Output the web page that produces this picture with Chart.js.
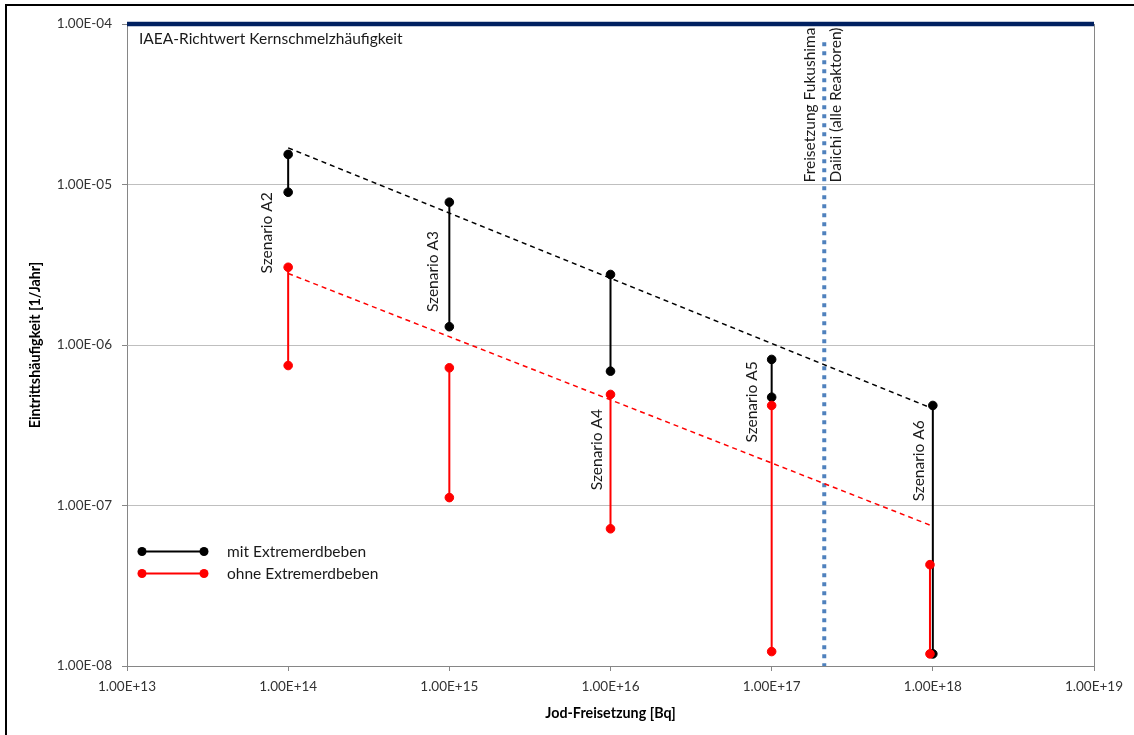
<!DOCTYPE html>
<html>
<head>
<meta charset="utf-8">
<script src="https://cdn.jsdelivr.net/npm/chart.js@4/dist/chart.umd.min.js"></script>
<style>
  html, body { margin: 0; padding: 0; background: #fff; }
  #wrap { width: 1134px; height: 735px; position: relative; }
</style>
</head>
<body>
<div id="wrap"><canvas id="c" width="1134" height="735"></canvas></div>
<script>
// Scenarios and their iodine release (Bq)
const scenarios = ['Szenario A2', 'Szenario A3', 'Szenario A4', 'Szenario A5', 'Szenario A6'];
const releaseMit = [1e14, 1e15, 1e16, 1e17, 1e18];
const releaseOhne = [1e14, 1e15, 1e16, 1e17, 9.6e17];

// Frequency ranges (1/year): upper and lower bound per scenario
const mitHigh = [1.54e-5, 7.76e-6, 2.75e-6, 8.13e-7, 4.2e-7];
const mitLow = [8.95e-6, 1.30e-6, 6.87e-7, 4.73e-7, 1.19e-8];
const ohneHigh = [3.05e-6, 7.21e-7, 4.92e-7, 4.20e-7, 4.28e-8];
const ohneLow = [7.45e-7, 1.12e-7, 7.16e-8, 1.23e-8, 1.19e-8];

// Trend lines through the upper bounds
const trendX = [1e14, 1e18];
const trendMit = [1.69e-5, 4.01e-7];
const trendOhne = [2.79e-6, 7.43e-8];

// Reference values
const iaeaLimit = 1e-4;
const iaeaRange = [1e13, 1e19];
const fukushimaRelease = 2.12e17;
const fukushimaRange = [7.7e-5, 1e-8];

// Axis ticks
const xTicks = [1e13, 1e14, 1e15, 1e16, 1e17, 1e18, 1e19];
const yTicks = [1e-8, 1e-7, 1e-6, 1e-5, 1e-4];

const FONT = 'Lato, "Open Sans", "Liberation Sans", sans-serif';
const TEXT_SIZE = 15.5;

function sci(v) {
  const e = Math.round(Math.log10(v));
  const m = v / Math.pow(10, e);
  return m.toFixed(2) + 'E' + (e < 0 ? '-' : '+') + String(Math.abs(e)).padStart(2, '0');
}

// vertical range segments separated by gaps
function segments(xs, hi, lo) {
  const out = [];
  xs.forEach((x, i) => {
    out.push({ x: x, y: hi[i] });
    out.push({ x: x, y: lo[i] });
    out.push({ x: x, y: null });
  });
  return out;
}

// label placement: horizontal pixel offset from the scenario position, vertical centre as a frequency
const labelPlacement = [
  { dx: -21, y: 5.0e-6 },
  { dx: -16, y: 2.87e-6 },
  { dx: -14, y: 2.23e-7 },
  { dx: -20, y: 4.42e-7 },
  { dx: -14, y: 1.9e-7 }
];

const frame = {
  id: 'frame',
  beforeDraw(chart) {
    const ctx = chart.ctx;
    ctx.save();
    ctx.fillStyle = '#fff';
    ctx.fillRect(0, 0, chart.width, chart.height);
    ctx.strokeStyle = '#000';
    ctx.lineWidth = 2;
    ctx.beginPath();
    ctx.moveTo(6, chart.height);
    ctx.lineTo(6, 5);
    ctx.lineTo(chart.width, 5);
    ctx.stroke();
    ctx.restore();
  },
  afterDraw(chart) {
    const { ctx, chartArea: a } = chart;
    ctx.save();
    ctx.strokeStyle = '#868686';
    ctx.lineWidth = 1;
    ctx.beginPath();
    ctx.moveTo(Math.round(a.right) + 0.5, a.top);
    ctx.lineTo(Math.round(a.right) + 0.5, a.bottom);
    ctx.stroke();
    ctx.restore();
  }
};

const annotations = {
  id: 'annotations',
  afterDatasetsDraw(chart) {
    const { ctx, chartArea: a, scales: { x, y } } = chart;
    ctx.save();
    ctx.fillStyle = '#1a1a1a';
    ctx.font = TEXT_SIZE + 'px ' + FONT;
    ctx.textBaseline = 'middle';
    ctx.textAlign = 'left';
    ctx.fillText('IAEA-Richtwert Kernschmelzhäufigkeit', a.left + 12, a.top + 15);

    // scenario labels, rotated
    ctx.textAlign = 'center';
    scenarios.forEach((s, i) => {
      const px = x.getPixelForValue(releaseMit[i]) + labelPlacement[i].dx;
      const py = y.getPixelForValue(labelPlacement[i].y);
      ctx.save();
      ctx.translate(px, py);
      ctx.rotate(-Math.PI / 2);
      ctx.fillText(s, 0, 0);
      ctx.restore();
    });

    // Fukushima label
    const fx = x.getPixelForValue(fukushimaRelease);
    [['Freisetzung Fukushima', -14], ['Daiichi (alle Reaktoren)', 12]].forEach(([t, dx]) => {
      ctx.save();
      ctx.translate(fx + dx, a.top + 81);
      ctx.rotate(-Math.PI / 2);
      ctx.fillText(t, 0, 0);
      ctx.restore();
    });

    // legend
    const items = [
      { label: 'mit Extremerdbeben', color: '#000', y: a.bottom - 114.5 },
      { label: 'ohne Extremerdbeben', color: '#ff0000', y: a.bottom - 92.5 }
    ];
    items.forEach(it => {
      const x0 = a.left + 15, x1 = a.left + 77;
      ctx.strokeStyle = it.color;
      ctx.fillStyle = it.color;
      ctx.lineWidth = 2;
      ctx.beginPath();
      ctx.moveTo(x0, it.y);
      ctx.lineTo(x1, it.y);
      ctx.stroke();
      [x0, x1].forEach(px => {
        ctx.beginPath();
        ctx.arc(px, it.y, 4.5, 0, Math.PI * 2);
        ctx.fill();
      });
      ctx.fillStyle = '#1a1a1a';
      ctx.textAlign = 'left';
      ctx.fillText(it.label, a.left + 100, it.y);
    });
    ctx.restore();
  }
};

const rangeStyle = (color) => ({
  borderColor: color,
  backgroundColor: color,
  pointBackgroundColor: color,
  pointBorderColor: color,
  pointRadius: 4.3,
  pointBorderWidth: 1,
  borderWidth: 2,
  spanGaps: false,
  clip: false
});

new Chart(document.getElementById('c'), {
  type: 'line',
  data: {
    datasets: [
      Object.assign({ label: 'ohne Extremerdbeben', data: segments(releaseOhne, ohneHigh, ohneLow) }, rangeStyle('#ff0000')),
      Object.assign({ label: 'mit Extremerdbeben', data: segments(releaseMit, mitHigh, mitLow) }, rangeStyle('#000000')),
      {
        label: 'Trend ohne',
        data: trendX.map((v, i) => ({ x: v, y: trendOhne[i] })),
        borderColor: '#ff0000', borderWidth: 1.5, borderDash: [5, 4], pointRadius: 0
      },
      {
        label: 'Trend mit',
        data: trendX.map((v, i) => ({ x: v, y: trendMit[i] })),
        borderColor: '#000000', borderWidth: 1.5, borderDash: [5, 4], pointRadius: 0
      },
      {
        label: 'Fukushima',
        data: fukushimaRange.map(v => ({ x: fukushimaRelease, y: v })),
        borderColor: '#4f81bd', borderWidth: 4, borderDash: [4, 5], borderCapStyle: 'butt', pointRadius: 0
      },
      {
        label: 'IAEA',
        data: iaeaRange.map(v => ({ x: v, y: iaeaLimit })),
        borderColor: '#002060', borderWidth: 4.5, pointRadius: 0, clip: false
      }
    ]
  },
  options: {
    responsive: false,
    animation: false,
    devicePixelRatio: 1,
    layout: { padding: { top: 24, right: 40, bottom: 0, left: 0 } },
    plugins: { legend: { display: false }, tooltip: { enabled: false } },
    scales: {
      x: {
        type: 'logarithmic',
        position: 'bottom',
        min: 1e13,
        max: 1e19,
        afterBuildTicks: s => { s.ticks = xTicks.map(v => ({ value: v })); },
        afterFit: s => { s.height = 69; },
        grid: { drawOnChartArea: false, drawTicks: true, tickLength: 5, color: '#868686', tickColor: '#868686' },
        border: { color: '#868686', width: 1 },
        ticks: {
          autoSkip: false, maxRotation: 0, padding: 8,
          color: '#333', font: { family: FONT, size: 13.5 },
          callback: v => sci(v)
        },
        title: {
          display: true, text: 'Jod-Freisetzung [Bq]', color: '#000',
          font: { family: FONT, size: 14.3, weight: 'bold' },
          padding: { top: 0, bottom: 13 }
        }
      },
      y: {
        type: 'logarithmic',
        position: 'left',
        min: 1e-8,
        max: 1e-4,
        afterBuildTicks: s => { s.ticks = yTicks.map(v => ({ value: v })); },
        afterFit: s => { s.width = 127; },
        grid: { color: '#bfbfbf', drawTicks: true, tickLength: 5, tickColor: '#868686' },
        border: { color: '#868686', width: 1 },
        ticks: {
          autoSkip: false, padding: 10,
          color: '#333', font: { family: FONT, size: 13.5 },
          callback: v => sci(v)
        },
        title: {
          display: true, text: 'Eintrittshäufigkeit [1/Jahr]', color: '#000',
          font: { family: FONT, size: 14.3, weight: 'bold' },
          padding: { top: 27, bottom: 0 }
        }
      }
    }
  },
  plugins: [frame, annotations]
});
</script>
</body>
</html>
